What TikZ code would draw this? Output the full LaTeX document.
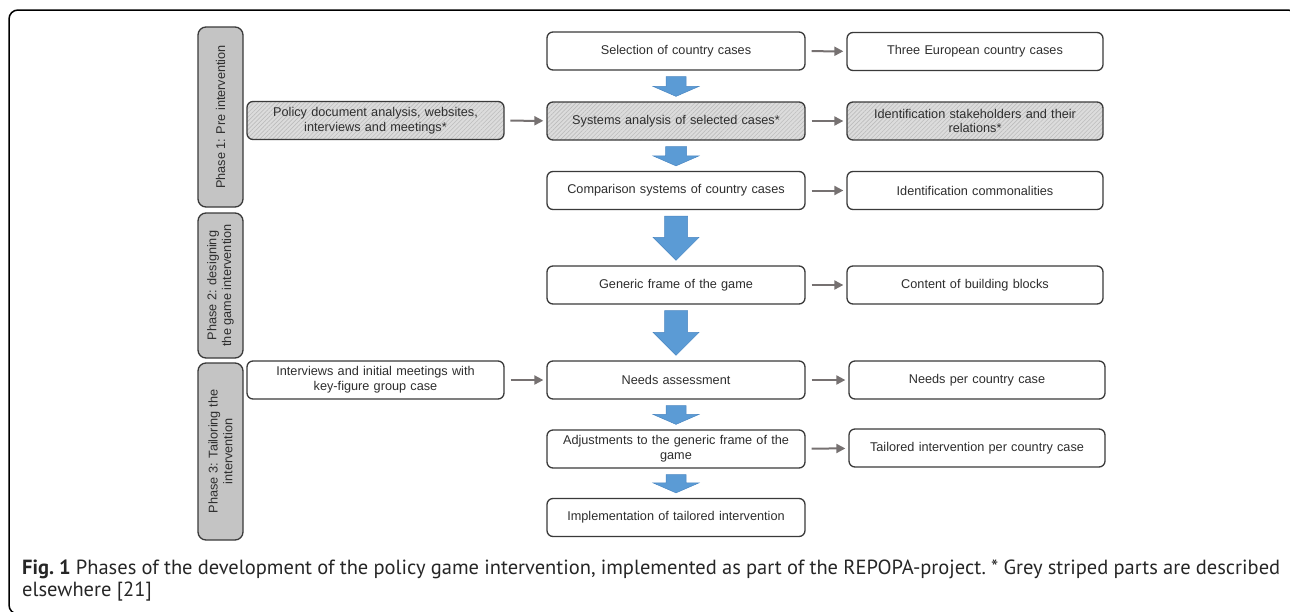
\documentclass[tikz,border=0pt]{standalone}
\usepackage{fontspec}
\setmainfont{Liberation Sans}
\newfontfamily\capfont{PT Sans}
\usetikzlibrary{arrows.meta,patterns.meta,calc}
\definecolor{boxc}{HTML}{3A3A3A}
\definecolor{txtc}{HTML}{2E2E2E}
\definecolor{phasefill}{HTML}{C4C4C4}
\definecolor{garrow}{HTML}{767171}
\definecolor{blu}{HTML}{5B9BD5}
\definecolor{bluedge}{HTML}{4A86C2}
\definecolor{hatchbg}{HTML}{DCDCDC}
\definecolor{hatchln}{HTML}{BDBDBD}
\newcommand\blockarr[4]{% #1 upper node, #2 lower node, #3 head length, #4 half shaft width
  \path[blockarrow] let \p1=(#1.south), \p2=(#2.north) in
    (\x1-#4pt,\y1-6pt) -- (\x1+#4pt,\y1-6pt) -- (\x1+#4pt,\y2+5pt+#3pt)
    -- (\x1+23pt,\y2+5pt+#3pt) -- (\x1,\y2+5pt) -- (\x1-23pt,\y2+5pt+#3pt)
    -- (\x1-#4pt,\y2+5pt+#3pt) -- cycle;}
\begin{document}
\begin{tikzpicture}[x=1pt,y=-1pt,
  every node/.style={text=txtc, font=\fontsize{12.7}{14.8}\selectfont},
  basebox/.style={draw=boxc, line width=1.3pt, rounded corners=6pt, minimum height=38pt, align=center, inner sep=0pt},
  box/.style={basebox, fill=white, minimum width=258pt, text width=250pt},
  rbox/.style={basebox, fill=white, minimum width=256pt, text width=248pt},
  hatch/.style={basebox, minimum width=258pt, text width=250pt, preaction={fill=hatchbg}, pattern={Lines[angle=45,distance=3pt,line width=0.6pt]}, pattern color=hatchln},
  phase/.style={draw=boxc, line width=1.3pt, rounded corners=8pt, fill=phasefill, minimum height=45pt, rotate=90, align=center, inner sep=0pt},
  garr/.style={draw=garrow, line width=2pt, -{Triangle[length=9pt,width=9pt]}, shorten <=6pt, shorten >=3pt},
  blockarrow/.style={fill=blu, draw=bluedge, line width=0.5pt, line join=miter}]
\useasboundingbox (0,0) rectangle (1290,611);
\clip (0,0) rectangle (1290,611);
\draw[line width=1.5pt, rounded corners=9pt] (9,10) rectangle (1297,614);

% phases
\node[phase, minimum width=180pt] (p1) at (220.5,117) {Phase 1: Pre intervention};
\node[phase, minimum width=145pt] (p2) at (220.5,285.5) {Phase 2: designing\\the game intervention};
\node[phase, minimum width=177pt] (p3) at (220.5,451.5) {Phase 3: Tailoring the\\intervention};

% left column
\node[hatch, minimum width=257pt] (pol) at (375.5,120.5) {Policy document analysis, websites,\\interviews and meetings*};
\node[box, minimum width=257pt] (intv) at (375.5,380) {Interviews and initial meetings with\\key-figure group case};

% middle column
\node[box] (sel) at (676,51) {Selection of country cases};
\node[hatch] (sys) at (676,121) {Systems analysis of selected cases*};
\node[box] (comp) at (676,190.5) {Comparison systems of country cases};
\node[box] (gen) at (676,285) {Generic frame of the game};
\node[box] (need) at (676,380) {Needs assessment};
\node[box] (adj) at (676,449) {Adjustments to the generic frame of the\\game};
\node[box] (impl) at (676,517.5) {Implementation of tailored intervention};

% right column
\node[rbox] (three) at (975,51.5) {Three European country cases};
\node[hatch, minimum width=256pt, text width=248pt] (stake) at (975,121) {Identification stakeholders and their\\relations*};
\node[rbox] (commo) at (975,190.5) {Identification commonalities};
\node[rbox] (cont) at (975,285) {Content of building blocks};
\node[rbox] (needpc) at (977,380) {Needs per country case};
\node[rbox] (tail) at (977,448) {Tailored intervention per country case};

% grey arrows
\draw[garr] (pol) -- (sys);
\draw[garr] (intv) -- (need);
\draw[garr] (sel) -- (three);
\draw[garr] (sys) -- (stake);
\draw[garr] (comp) -- (commo);
\draw[garr] (gen) -- (cont);
\draw[garr] (need) -- (needpc);
\draw[garr] (adj) -- (tail);

% blue block arrows
\blockarr{sel}{sys}{10}{10}
\blockarr{sys}{comp}{10}{10.5}
\blockarr{comp}{gen}{23}{11.5}
\blockarr{gen}{need}{23}{11.5}
\blockarr{need}{adj}{10}{10}
\blockarr{adj}{impl}{10}{10}

% caption
\node[anchor=north west, text width=1258pt, align=justify, inner sep=0pt, text=black!85,
  font=\capfont\fontsize{20.5}{22}\selectfont\frenchspacing] (cap) at (22,560)
  {\textbf{Fig. 1} Phases of the development of the policy game intervention, implemented as part of the REPOPA-project. * Grey striped parts are described\linebreak elsewhere [21]};
\end{tikzpicture}
\end{document}
